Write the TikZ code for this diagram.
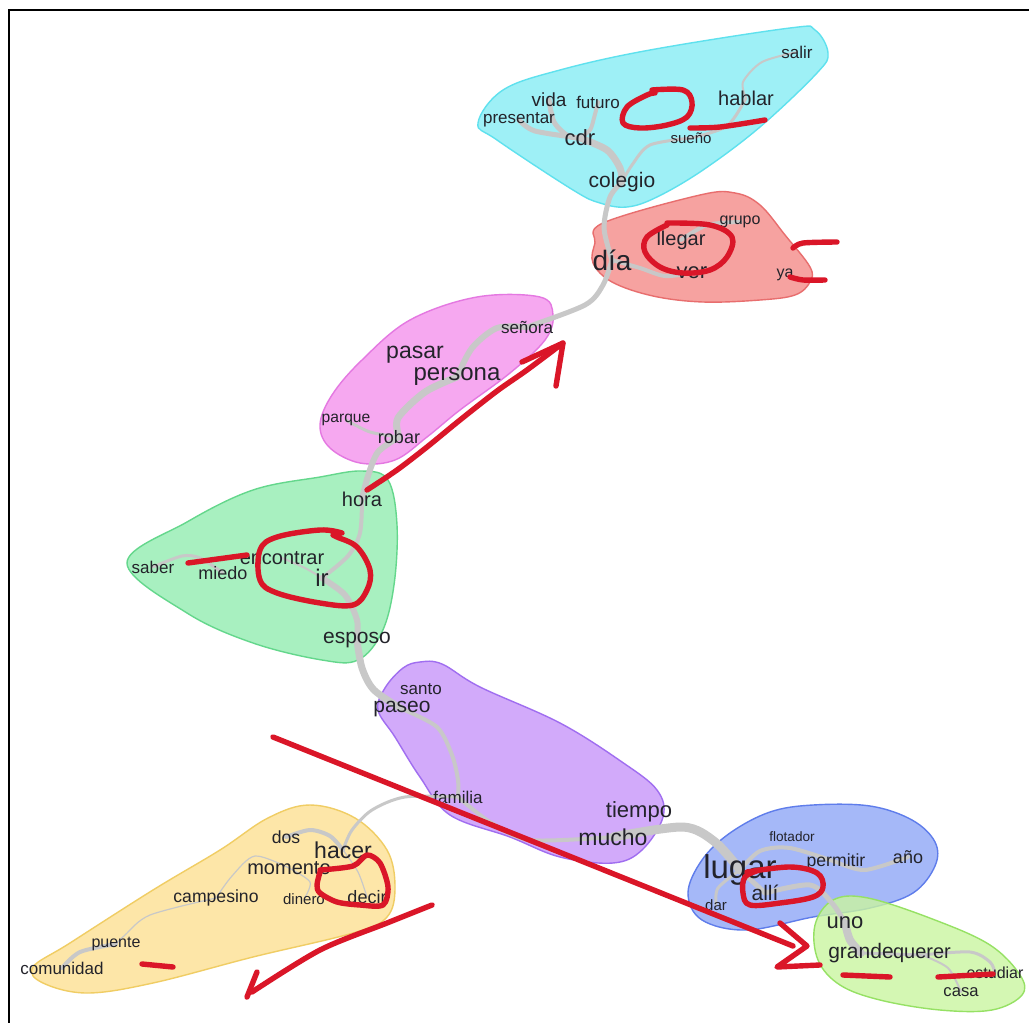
\documentclass[tikz,border=0pt]{standalone}
\usepackage{fontspec}
\setmainfont{Liberation Sans}
\pgfdeclarelayer{paper}
\pgfdeclarelayer{blobs}
\pgfdeclarelayer{edges}
\pgfsetlayers{paper,blobs,edges,main}
\definecolor{cyanF}{RGB}{158,240,246}\definecolor{cyanD}{RGB}{95,225,238}
\definecolor{redF}{RGB}{246,162,160}\definecolor{redD}{RGB}{232,110,110}
\definecolor{pinkF}{RGB}{246,168,240}\definecolor{pinkD}{RGB}{228,120,225}
\definecolor{greenF}{RGB}{168,240,192}\definecolor{greenD}{RGB}{100,215,140}
\definecolor{purpF}{RGB}{210,170,250}\definecolor{purpD}{RGB}{160,110,240}
\definecolor{yelF}{RGB}{253,230,168}\definecolor{yelD}{RGB}{240,205,100}
\definecolor{blueF}{RGB}{165,184,248}\definecolor{blueD}{RGB}{95,125,235}
\definecolor{lgF}{RGB}{202,245,160}\definecolor{lgD}{RGB}{150,225,100}
\definecolor{egray}{RGB}{200,200,200}
\definecolor{ink}{RGB}{35,35,42}
\definecolor{penred}{RGB}{218,22,40}
\begin{document}
\begin{tikzpicture}[x=0.5pt,y=-0.5pt,
  wd/.style={font=\fontsize{#1}{#1}\selectfont, text=ink, inner sep=0pt},
  blob/.style={line width=0.7pt},
  lnk/.style={draw=egray, line width=#1pt, line cap=round, line join=round},
  pen/.style={draw=penred, line width=2.7pt, line cap=round, line join=round}]
\useasboundingbox (0,0) rectangle (1029,1023);
\begin{pgfonlayer}{paper}
\fill[white] (0,0) rectangle (1029,1023);
\end{pgfonlayer}
\draw[line width=1.2pt] (9,1023) -- (9,10) -- (1029,10);

% ---------- words ----------
\node[wd=8.5] (salir) at (797,52) {salir};
\node[wd=9.5] (vida) at (549,100) {vida};
\node[wd=8.5] (futuro) at (598,102) {futuro};
\node[wd=10] (hablar) at (746,98) {hablar};
\node[wd=8.5] (presentar) at (519,120) {presentar};
\node[wd=11] (cdr) at (580,138) {cdr};
\node[wd=7.5] (sueno) at (691,138) {sueño};
\node[wd=10.5] (colegio) at (622,182) {colegio};
\node[wd=8] (grupo) at (740,222) {grupo};
\node[wd=10] (llegar) at (681,240) {llegar};
\node[wd=14] (dia) at (612,260) {día};
\node[wd=11] (ver) at (692,273) {ver};
\node[wd=8] (ya) at (785,275) {ya};
\node[wd=8.5] (senora) at (527,327) {señora};
\node[wd=11.5] (pasar) at (415,355) {pasar};
\node[wd=12] (persona) at (457,377) {persona};
\node[wd=7.8] (parque) at (346,420) {parque};
\node[wd=9] (robar) at (399,437) {robar};
\node[wd=10] (hora) at (362,499) {hora};
\node[wd=8.5] (saber) at (153,567) {saber};
\node[wd=9] (miedo) at (223,573) {miedo};
\node[wd=10] (encontrar) at (282,558) {encontrar};
\node[wd=12] (ir) at (322,578) {ir};
\node[wd=10.5] (esposo) at (357,640) {esposo};
\node[wd=8.5] (santo) at (421,689) {santo};
\node[wd=10.5] (paseo) at (402,709) {paseo};
\node[wd=8.5] (familia) at (458,797) {familia};
\node[wd=11] (tiempo) at (639,812) {tiempo};
\node[wd=11.5] (mucho) at (613,837) {mucho};
\node[wd=8.8] (dos) at (286,837) {dos};
\node[wd=11.5] (hacer) at (343,850) {hacer};
\node[wd=10] (momento) at (289,868) {momento};
\node[wd=8.8] (campesino) at (216,898) {campesino};
\node[wd=7.5] (dinero) at (304,899) {dinero};
\node[wd=9] (decir) at (367,897) {decir};
\node[wd=8] (puente) at (116,944) {puente};
\node[wd=8.5] (comunidad) at (62,968) {comunidad};
\node[wd=6.8] (flotador) at (792,837) {flotador};
\node[wd=16.5] (lugar) at (740,870) {lugar};
\node[wd=8.8] (permitir) at (836,862) {permitir};
\node[wd=9] (anio) at (908,857) {año};
\node[wd=10.5] (alli) at (765,893) {allí};
\node[wd=7.5] (dar) at (716,905) {dar};
\node[wd=11] (uno) at (845,923) {uno};
\node[wd=10.5] (grande) at (861,953) {grande};
\node[wd=10] (querer) at (922,955) {querer};
\node[wd=8] (estudiar) at (995,973) {estudiar};
\node[wd=8.3] (casa) at (961,992) {casa};

% ---------- clusters ----------
\begin{pgfonlayer}{blobs}
\draw[blob, fill=cyanF, draw=cyanD] plot[smooth cycle, tension=0.6] coordinates {(478,123) (503,90) (560,70) (650,50) (790,28) (815,30) (828,53) (817,73) (760,127) (703,170) (657,197) (627,207) (600,203) (573,190) (497,140)};
\draw[blob, fill=redF, draw=redD] plot[smooth cycle, tension=0.6] coordinates {(603,223) (700,195) (735,193) (760,205) (785,235) (810,267) (810,282) (795,295) (760,300) (703,302) (653,296) (612,282) (593,263) (595,243)};
\draw[blob, fill=pinkF, draw=pinkD] plot[smooth cycle, tension=0.6] coordinates {(477,297) (540,297) (553,315) (545,340) (510,373) (460,410) (427,437) (395,460) (360,463) (330,448) (320,425) (332,395) (362,360) (410,320)};
\draw[blob, fill=greenF, draw=greenD] plot[smooth cycle, tension=0.6] coordinates {(362,471) (388,480) (397,525) (394,585) (382,632) (358,660) (322,660) (253,643) (187,613) (127,563) (187,522) (253,490) (320,477)};
\draw[blob, fill=purpF, draw=purpD] plot[smooth cycle, tension=0.6] coordinates {(420,662) (442,664) (480,687) (560,723) (622,762) (657,790) (663,817) (642,850) (613,863) (560,857) (510,837) (450,815) (420,777) (395,737) (378,710) (385,688) (403,668)};
\draw[blob, fill=yelF, draw=yelD] plot[smooth cycle, tension=0.6] coordinates {(310,805) (355,818) (387,850) (395,887) (387,917) (353,933) (253,957) (153,983) (87,993) (43,983) (33,967) (70,943) (153,890) (220,850) (268,818)};
\draw[blob, fill=blueF, draw=blueD] plot[smooth cycle, tension=0.6] coordinates {(813,805) (870,806) (912,820) (935,842) (935,866) (913,893) (870,908) (813,917) (747,930) (702,920) (688,893) (702,860) (730,833) (770,812)};
\draw[blob, fill=lgF, draw=lgD, fill opacity=0.8] plot[smooth cycle, tension=0.6] coordinates {(833,900) (868,898) (935,920) (990,945) (1020,975) (1022,995) (992,1010) (940,1010) (880,1000) (840,985) (818,960) (815,925)};
\end{pgfonlayer}

% ---------- connectors ----------
\begin{pgfonlayer}{edges}
\draw[lnk=2.5] plot[smooth] coordinates {(vida.center) (554,122) (568,136) (cdr.center)};
\draw[lnk=2] plot[smooth] coordinates {(futuro.center) (594,118) (590,130) (cdr.center)};
\draw[lnk=2.5] plot[smooth] coordinates {(presentar.center) (535,131) (cdr.center)};
\draw[lnk=3.5] plot[smooth] coordinates {(cdr.center) (607,150) (620,168) (colegio.center)};
\draw[lnk=1.5] plot[smooth] coordinates {(sueno.center) (650,145) (632,165) (colegio.center)};
\draw[lnk=1.5] plot[smooth] coordinates {(sueno.center) (727,126) (hablar.center)};
\draw[lnk=1] plot[smooth] coordinates {(hablar.center) (743,82) (762,62) (salir.center)};
\draw[lnk=2.5] plot[smooth] coordinates {(colegio.center) (610,197) (604,228) (dia.center)};
\draw[lnk=2] plot[smooth] coordinates {(dia.center) (640,268) (665,276) (ver.center)};
\draw[lnk=2] plot[smooth] coordinates {(llegar.center) (707,225) (grupo.center)};
\draw[lnk=2.5] plot[smooth] coordinates {(dia.center) (603,285) (585,305) (senora.center)};
\draw[lnk=3] plot[smooth] coordinates {(senora.center) (497,328) (472,348) (persona.center)};
\draw[lnk=3.5] plot[smooth] coordinates {(persona.center) (425,392) (398,418) (robar.center)};
\draw[lnk=1.5] plot[smooth] coordinates {(parque.center) (370,432) (robar.center)};
\draw[lnk=3] plot[smooth] coordinates {(robar.center) (378,452) (368,476) (hora.center)};
\draw[lnk=2] plot[smooth] coordinates {(hora.center) (360,533) (348,556) (ir.center)};
\draw[lnk=1.5] plot[smooth] coordinates {(saber.center) (182,556) (200,558) (miedo.center)};
\draw[lnk=1] plot[smooth] coordinates {(encontrar.center) (305,568) (ir.center)};
\draw[lnk=3] plot[smooth] coordinates {(ir.center) (345,595) (357,620) (esposo.center)};
\draw[lnk=3.5] plot[smooth] coordinates {(esposo.center) (362,668) (374,690) (paseo.center)};
\draw[lnk=2] plot[smooth] coordinates {(paseo.center) (437,727) (452,755) (458,780) (familia.center)};
\draw[lnk=2] plot[smooth] coordinates {(familia.center) (490,822) (530,840) (mucho.center)};
\draw[lnk=4.5] plot[smooth] coordinates {(mucho.center) (683,827) (715,842) (lugar.center)};
\draw[lnk=2] plot[smooth] coordinates {(lugar.center) (760,851) (790,848) (permitir.center)};
\draw[lnk=2] plot[smooth] coordinates {(permitir.center) (865,870) (anio.center)};
\draw[lnk=1.5] plot[smooth] coordinates {(lugar.center) (718,888) (dar.center)};
\draw[lnk=2.5] plot[smooth] coordinates {(lugar.center) (alli.center)};
\draw[lnk=2.5] plot[smooth] coordinates {(alli.center) (810,885) (832,903) (uno.center)};
\draw[lnk=4] plot[smooth] coordinates {(uno.center) (850,940) (grande.center)};
\draw[lnk=1.5] plot[smooth] coordinates {(grande.center) (querer.center)};
\draw[lnk=1.5] plot[smooth] coordinates {(querer.center) (970,952) (990,962) (estudiar.center)};
\draw[lnk=1] plot[smooth] coordinates {(querer.center) (948,968) (casa.center)};
\draw[lnk=1.5] plot[smooth] coordinates {(familia.center) (405,797) (372,810) (352,830) (hacer.center)};
\draw[lnk=2] plot[smooth] coordinates {(hacer.center) (330,836) (310,830) (dos.center)};
\draw[lnk=0.6] plot[smooth] coordinates {(hacer.center) (358,872) (decir.center)};
\draw[lnk=0.6] plot[smooth] coordinates {(momento.center) (255,856) (232,876) (campesino.center)};
\draw[lnk=0.6] plot[smooth] coordinates {(dinero.center) (310,882) (momento.center)};
\draw[lnk=0.6] plot[smooth] coordinates {(campesino.center) (150,915) (125,935) (puente.center)};
\draw[lnk=2] plot[smooth] coordinates {(puente.center) (80,952) (comunidad.center)};
\end{pgfonlayer}

% ---------- red pen marks ----------
\draw[pen] plot[smooth, tension=0.6] coordinates {(652,90) (683,90) (692,102) (687,117) (667,125) (640,128) (623,123) (627,107) (647,95) (655,93)};
\draw[pen] plot[smooth] coordinates {(690,128) (720,127) (765,120)};
\draw[pen] plot[smooth, tension=0.6] coordinates {(667,223) (710,225) (732,237) (727,257) (710,270) (683,273) (660,267) (645,252) (647,237) (667,225)};
\draw[pen] plot[smooth] coordinates {(793,248) (803,243) (837,242)};
\draw[pen] plot[smooth] coordinates {(790,277) (803,280) (825,280)};
\draw[pen] plot[smooth] coordinates {(367,490) (397,470) (427,447) (460,420) (497,391) (527,370) (563,343)};
\draw[pen] (522,362) -- (563,343) -- (556,386);
\draw[pen] plot[smooth, tension=0.6] coordinates {(342,533) (320,530) (277,537) (260,550) (260,580) (277,593) (320,603) (353,605) (367,590) (370,570) (357,547) (337,537) (333,535)};
\draw[pen] (188,563) -- (247,555);
\draw[pen] (273,737) -- (793,946);
\draw[pen] (780,923) -- (807,946) -- (777,967) -- (820,965);
\draw[pen] plot[smooth, tension=0.6] coordinates {(747,872) (790,867) (817,873) (823,887) (813,897) (780,903) (750,905) (743,893) (745,877) (760,870)};
\draw[pen] (843,975) -- (890,977);
\draw[pen] (938,977) -- (993,974);
\draw[pen] plot[smooth, tension=0.5] coordinates {(320,870) (353,866) (367,855) (380,863) (388,887) (383,905) (360,905) (337,902) (320,893) (317,885) (320,872)};
\draw[pen] (142,964) -- (173,967);
\draw[pen] plot[smooth] coordinates {(432,905) (387,923) (320,950) (252,992)};
\draw[pen] (257,972) -- (247,997);
\end{tikzpicture}
\end{document}
